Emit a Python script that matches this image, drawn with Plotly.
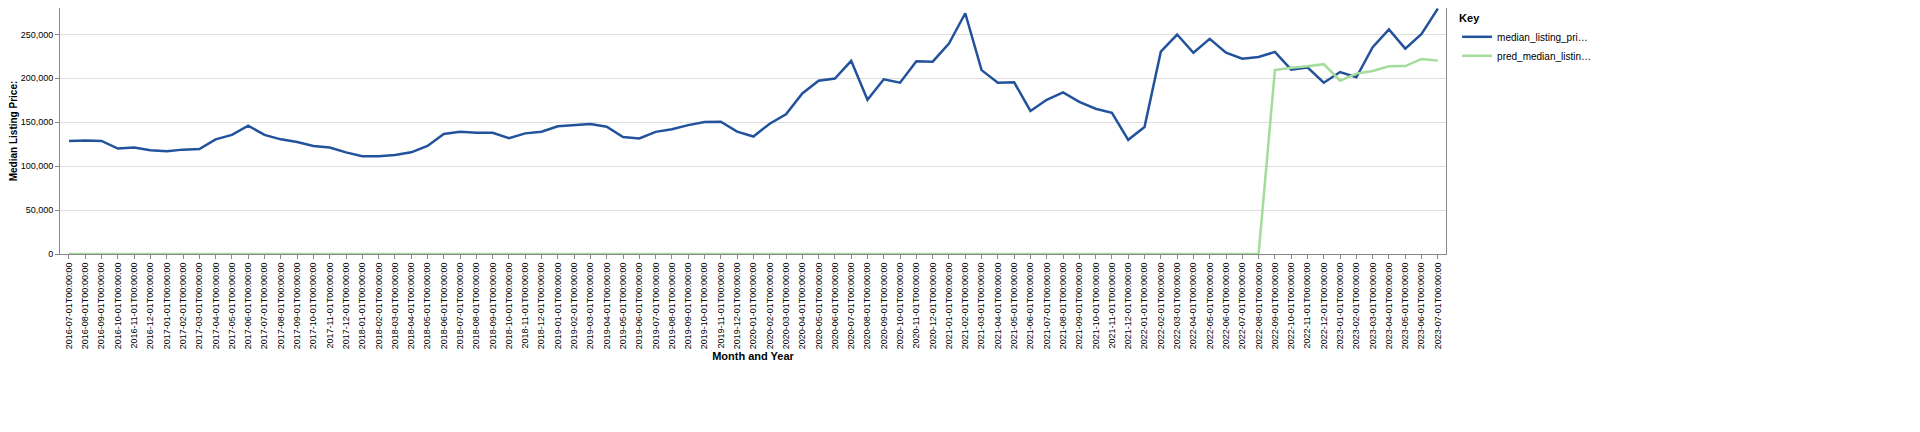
import plotly.graph_objects as go
import pandas as pd

months = [d.strftime("%Y-%m-%dT00:00:00") for d in pd.date_range("2016-07-01", "2023-07-01", freq="MS")]
median_listing_price = [
    128700, 129300, 128700, 120000, 121300, 118200, 117000, 118800, 119400, 130500,
    135500, 146000, 135500, 130500, 127500, 123000, 121300, 115700, 111400, 111400,
    112700, 115700, 123000, 136700, 139200, 138000, 138000, 131800, 137300, 139200,
    145400, 147100, 148000, 144900, 133100, 131600, 139000, 142100, 146700, 150200,
    150500, 139300, 133700, 148300, 159100, 182700, 197200, 199700, 219800, 175500,
    198800, 195000, 219500, 218900, 239600, 274000, 209300, 195000, 195400, 162800,
    175500, 183900, 173100, 165300, 160700, 130000, 144600, 230300, 249800, 229100,
    244900, 229100, 222300, 224200, 230000, 209900, 212400, 195000, 207100, 201200,
    235300, 255700, 233700, 250500, 279300,
]
pred_median_listing_price = [0] * 74 + [
    209300, 212100, 213600, 216100, 197200, 205300, 208400, 213600, 213900, 222000, 220100,
]

fig = go.Figure()
fig.add_trace(go.Scatter(x=months, y=median_listing_price, mode="lines",
                         name="median_listing_pri…", line=dict(color="#23529c", width=2.5)))
fig.add_trace(go.Scatter(x=months, y=pred_median_listing_price, mode="lines",
                         name="pred_median_listin…", line=dict(color="#a3dc9b", width=2.5)))

fig.update_layout(
    width=1920, height=432, plot_bgcolor="white", paper_bgcolor="white",
    margin=dict(l=52, r=482, t=0, b=186, autoexpand=False),
    font=dict(family="Liberation Sans, Arial", size=9, color="#000"),
    legend=dict(title=dict(text="<b>Key</b>", font=dict(size=11)), x=1.008, y=1.0,
                xanchor="left", yanchor="top", font=dict(size=10), tracegroupgap=0),
    xaxis=dict(type="category", range=[-0.55, 84.5], tickangle=-90, tickfont=dict(size=9),
               showgrid=False, showline=True, linecolor="#888", mirror=True, ticks="outside",
               tickcolor="#888", ticklen=4, automargin=False,
               title=dict(text="<b>Month and Year</b>", font=dict(size=11), standoff=4)),
    yaxis=dict(range=[0, 280000], dtick=50000, tickformat=",", showgrid=True, gridcolor="#ddd",
               showline=True, linecolor="#888", mirror=True, ticks="outside", tickcolor="#888",
               ticklen=4, zeroline=False, tickfont=dict(size=9), automargin=False,
               title=dict(text="<b>Median Listing Price:</b>", font=dict(size=10), standoff=4)),
)
fig.write_html("out.html")
